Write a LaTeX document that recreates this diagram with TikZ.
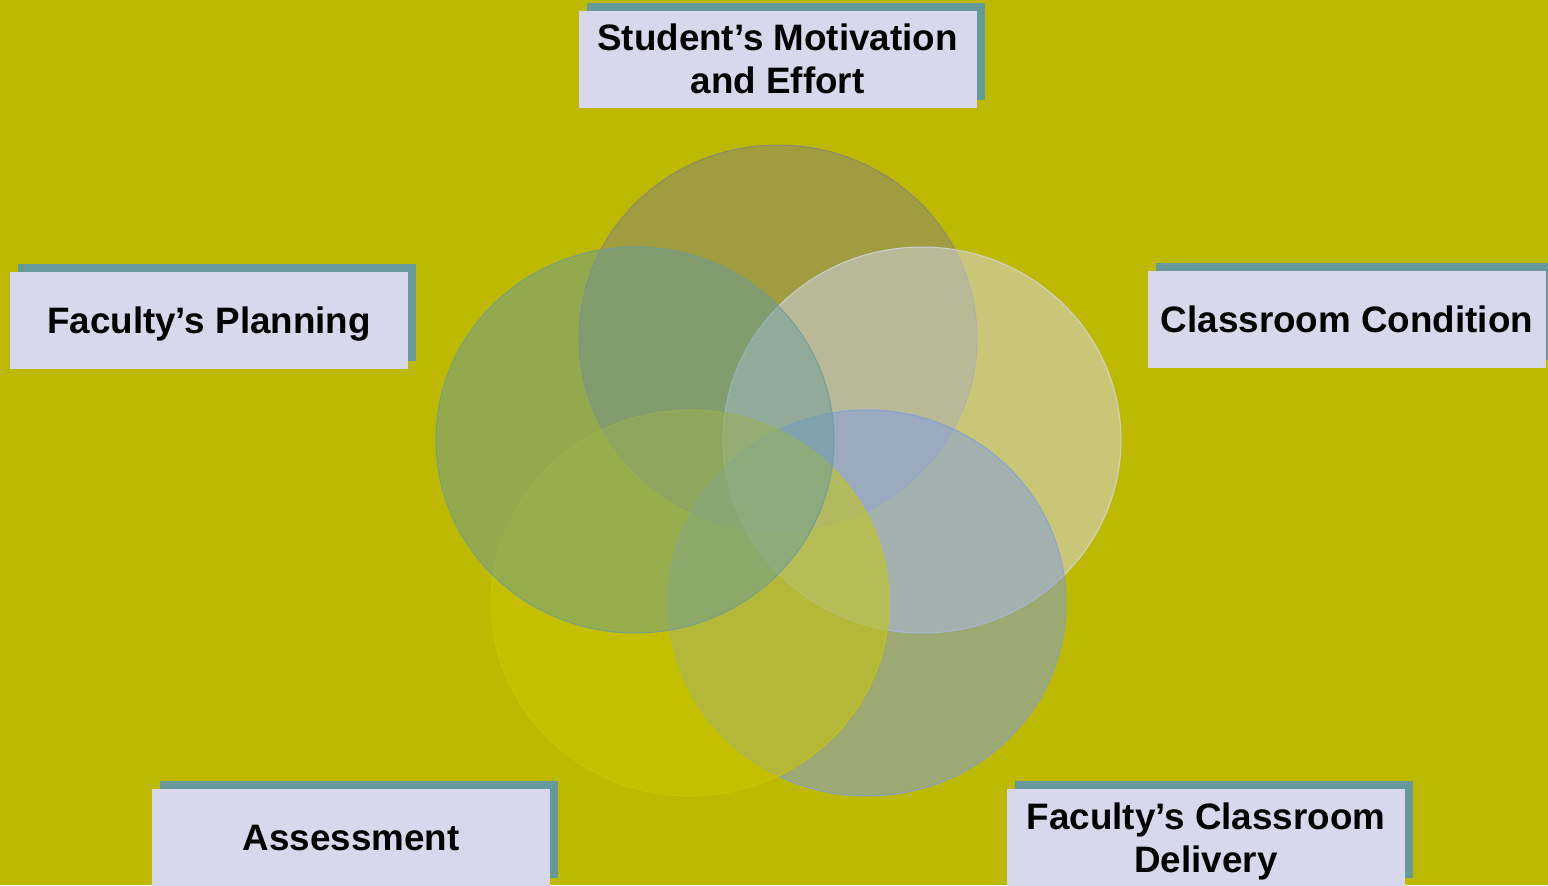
\documentclass[tikz,border=0pt]{standalone}
\usepackage{fontspec}
\setmainfont{Liberation Sans}
\usetikzlibrary{shadows}
\definecolor{bgc}{HTML}{BDB800}
\definecolor{ctop}{HTML}{838380}
\definecolor{cleft}{HTML}{699C9C}
\definecolor{cright}{HTML}{D5D6EE}
\definecolor{cbl}{HTML}{CBC800}
\definecolor{cbr}{HTML}{7D9CE6}
\definecolor{boxc}{HTML}{D8D8EC}
\definecolor{shadc}{HTML}{669999}
\tikzset{
  venn/.style={fill=#1, fill opacity=0.5, draw=#1, draw opacity=0.8, line width=0.75pt},
  labelbox/.style={rectangle, fill=boxc, minimum width=298.5pt, minimum height=72.75pt,
    inner sep=0pt, align=center, text depth=0pt, font=\fontsize{27.6pt}{32.4pt}\selectfont\bfseries,
    general shadow={fill=shadc, shadow xshift=6pt, shadow yshift=6pt}}
}
\begin{document}
\begin{tikzpicture}[x=0.75pt,y=-0.75pt]
\fill[bgc] (0,0) rectangle (1548,885);
\useasboundingbox (0,0) rectangle (1548,885);
% venn ellipses (drawn clockwise from top)
\coordinate (ctop) at (778,338);
\coordinate (cright) at (922,440);
\coordinate (cbr) at (867,603);
\coordinate (cbl) at (690,603);
\coordinate (cleft) at (635,440);
\path[venn=ctop] (ctop) ellipse [x radius=199, y radius=193];
\path[venn=cright] (cright) ellipse [x radius=199, y radius=193];
\path[venn=cbr] (cbr) ellipse [x radius=199, y radius=193];
\path[venn=cbl] (cbl) ellipse [x radius=199, y radius=193];
\path[venn=cleft] (cleft) ellipse [x radius=199, y radius=193];
% label boxes
\node[labelbox] (motivation) at (777.5,59) {Student’s Motivation\\and Effort};
\node[labelbox] (planning) at (209,320) {Faculty’s Planning};
\node[labelbox] (condition) at (1347,319.5) {Classroom Condition};
\node[labelbox] (assessment) at (351,837.5) {Assessment};
\node[labelbox] (delivery) at (1206,837.5) {Faculty’s Classroom\\Delivery};
\end{tikzpicture}
\end{document}
